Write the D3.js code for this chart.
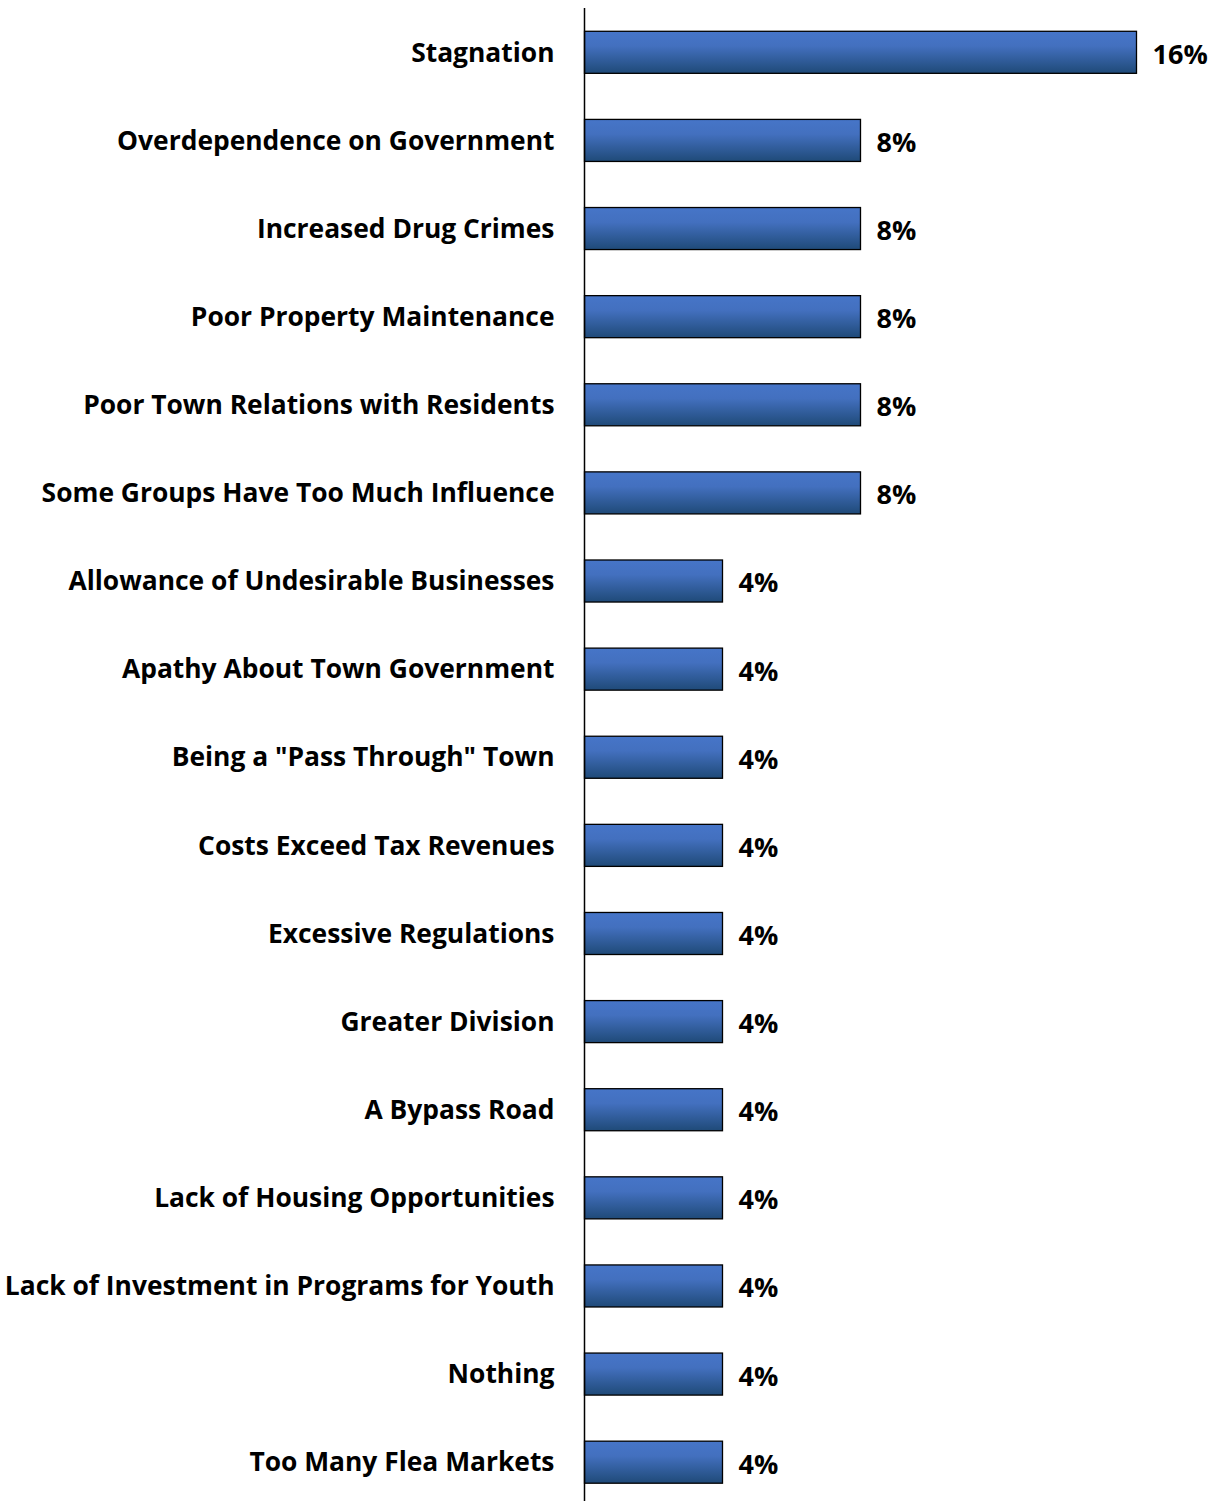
<!DOCTYPE html>
<html>
<head>
<meta charset="utf-8">
<script src="https://cdn.jsdelivr.net/npm/d3@7"></script>
<style>
  html, body { margin: 0; padding: 0; background: #fff; }
  svg text { font-family: "Open Sans", "Noto Sans", sans-serif; font-weight: bold; fill: #000; }
</style>
</head>
<body>
<svg id="chart" width="1219" height="1501"></svg>
<script>
// Survey responses: biggest threats / concerns, share of respondents
const categories = [
  "Stagnation",
  "Overdependence on Government",
  "Increased Drug Crimes",
  "Poor Property Maintenance",
  "Poor Town Relations with Residents",
  "Some Groups Have Too Much Influence",
  "Allowance of Undesirable Businesses",
  "Apathy About Town Government",
  "Being a \"Pass Through\" Town",
  "Costs Exceed Tax Revenues",
  "Excessive Regulations",
  "Greater Division",
  "A Bypass Road",
  "Lack of Housing Opportunities",
  "Lack of Investment in Programs for Youth",
  "Nothing",
  "Too Many Flea Markets"
];
const values = [16, 8, 8, 8, 8, 8, 4, 4, 4, 4, 4, 4, 4, 4, 4, 4, 4];

const svg = d3.select("#chart");
const axisX = 584.5;
const axisTop = 8, axisBottom = 1501;

const x = d3.scaleLinear().domain([0, 16]).range([axisX, axisX + 552]);
const y = d3.scaleBand().domain(categories).range([7.5, 1507]).paddingInner(0.523).paddingOuter(0.27);

// Bar gradient: lighter blue at top to dark navy at bottom
const defs = svg.append("defs");
const grad = defs.append("linearGradient").attr("id", "barGrad")
  .attr("x1", 0).attr("y1", 0).attr("x2", 0).attr("y2", 1);
grad.append("stop").attr("offset", "0%").attr("stop-color", "#4675c8");
grad.append("stop").attr("offset", "35%").attr("stop-color", "#4370bf");
grad.append("stop").attr("offset", "100%").attr("stop-color", "#1f4a78");

const rows = categories.map((c, i) => ({ c, v: values[i] }));

svg.append("g").selectAll("rect").data(rows).join("rect")
  .attr("x", axisX)
  .attr("y", d => y(d.c))
  .attr("width", d => x(d.v) - axisX)
  .attr("height", y.bandwidth())
  .attr("fill", "url(#barGrad)")
  .attr("stroke", "#000")
  .attr("stroke-width", 1.3);

// Category axis line
svg.append("line")
  .attr("x1", axisX).attr("x2", axisX)
  .attr("y1", axisTop).attr("y2", axisBottom)
  .attr("stroke", "#000").attr("stroke-width", 1.5);

// Category labels
svg.append("g").selectAll("text").data(rows).join("text")
  .attr("x", axisX - 30)
  .attr("y", d => y(d.c) + y.bandwidth() / 2)
  .attr("dy", "0.35em")
  .attr("text-anchor", "end")
  .attr("font-size", 26.4)
  .text(d => d.c);

// Value labels
svg.append("g").selectAll("text").data(rows).join("text")
  .attr("x", d => x(d.v) + 16)
  .attr("y", d => y(d.c) + y.bandwidth() / 2 + 2)
  .attr("dy", "0.35em")
  .attr("font-size", 27)
  .text(d => d.v + "%");
</script>
</body>
</html>
